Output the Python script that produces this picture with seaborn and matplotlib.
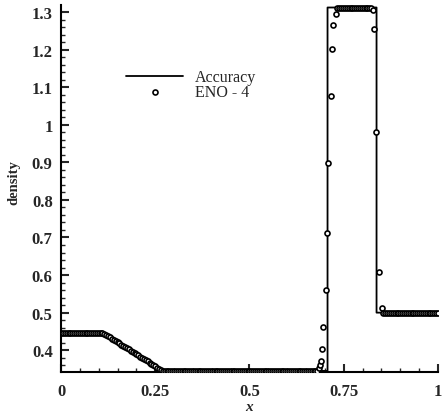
import numpy as np
import pandas as pd
import matplotlib
matplotlib.use("Agg")
import matplotlib.pyplot as plt
import seaborn as sns
from matplotlib.ticker import MultipleLocator, FuncFormatter

# ---- exact solution ("Accuracy") ----
exact_x = [0.0, 0.112, 0.15, 0.19, 0.23, 0.27, 0.707, 0.707, 0.837, 0.837, 1.0]
exact_rho = [0.445, 0.445, 0.421, 0.396, 0.370, 0.345, 0.345, 1.312, 1.312, 0.5, 0.5]

# ---- ENO-4 markers ----
# flat left state
eno_left_x = [round(0.005 * i, 3) for i in range(23)]          # 0 .. 0.11
eno_left_rho = [0.446] * 23
# rarefaction fan
eno_fan_x = [round(0.115 + 0.005 * i, 3) for i in range(32)]   # 0.115 .. 0.27
eno_fan_rho = [0.444, 0.441, 0.438, 0.434, 0.431, 0.427, 0.424, 0.421,
               0.418, 0.415, 0.411, 0.408, 0.405, 0.402, 0.399, 0.396,
               0.392, 0.389, 0.386, 0.383, 0.380, 0.377, 0.373, 0.370,
               0.367, 0.364, 0.361, 0.358, 0.354, 0.351, 0.348, 0.346]
# flat middle-left state
eno_mid_x = [round(0.275 + 0.005 * i, 3) for i in range(82)]   # 0.275 .. 0.68
eno_mid_rho = [0.345] * 82
# contact discontinuity
eno_contact_x = [0.684, 0.687, 0.689, 0.691, 0.696, 0.703, 0.705, 0.709,
                 0.716, 0.720, 0.722, 0.729]
eno_contact_rho = [0.352, 0.361, 0.372, 0.404, 0.461, 0.559, 0.713, 0.899,
                   1.077, 1.201, 1.265, 1.295]
# plateau
eno_plat_x = [round(0.733 + 0.005 * i, 3) for i in range(19)]  # 0.733 .. 0.823
eno_plat_rho = [1.312] * 19
# shock
eno_shock_x = [0.827, 0.831, 0.835, 0.844, 0.851]
eno_shock_rho = [1.306, 1.256, 0.980, 0.608, 0.513]
# right state
eno_right_x = [round(0.855 + 0.005 * i, 3) for i in range(30)]  # 0.855 .. 1.0
eno_right_rho = [0.5] * 30

eno_x = (eno_left_x + eno_fan_x + eno_mid_x + eno_contact_x
         + eno_plat_x + eno_shock_x + eno_right_x)
eno_rho = (eno_left_rho + eno_fan_rho + eno_mid_rho + eno_contact_rho
           + eno_plat_rho + eno_shock_rho + eno_right_rho)

x_ticks = [0, 0.25, 0.5, 0.75, 1]
y_ticks = [0.4, 0.5, 0.6, 0.7, 0.8, 0.9, 1.0, 1.1, 1.2, 1.3]

sns.set_style("white")
plt.rcParams['font.family'] = ['Liberation Serif', 'DejaVu Serif']

fig = plt.figure(figsize=(4.43, 4.14), dpi=100)
ax = fig.add_axes([0.1377, 0.099, 0.851, 0.8859])

df_exact = pd.DataFrame({"x": exact_x, "rho": exact_rho})
df_eno = pd.DataFrame({"x": eno_x, "rho": eno_rho})

sns.lineplot(data=df_exact, x="x", y="rho", sort=False, estimator=None,
             color="black", linewidth=1.3, label="Accuracy", ax=ax)
sns.scatterplot(data=df_eno, x="x", y="rho", marker="o", s=13,
                facecolor="white", edgecolor="black", linewidth=1.2,
                label="ENO - 4", ax=ax, zorder=3)

ax.set_xlim(0, 1)
ax.set_ylim(0.342, 1.318)
ax.set_xticks(x_ticks)
ax.set_yticks(y_ticks)
ax.xaxis.set_minor_locator(MultipleLocator(0.05))
ax.yaxis.set_minor_locator(MultipleLocator(0.02))
ax.xaxis.set_major_formatter(FuncFormatter(lambda v, p: "%g" % v))
ax.yaxis.set_major_formatter(FuncFormatter(lambda v, p: "%g" % round(v, 2)))

ax.tick_params(which="major", direction="in", length=6, width=1.5,
               labelsize=12, pad=6)
ax.tick_params(axis="x", which="major", pad=8)
ax.tick_params(which="minor", direction="in", length=3, width=1.0)
ax.tick_params(axis="y", which="both", left=True)
ax.tick_params(axis="x", which="both", bottom=True)
for lab in ax.get_xticklabels() + ax.get_yticklabels():
    lab.set_fontweight("bold")

for s in ["top", "right"]:
    ax.spines[s].set_visible(False)
for s in ["left", "bottom"]:
    ax.spines[s].set_linewidth(1.5)
    ax.spines[s].set_color("black")

ax.set_xlabel("x", fontsize=11, fontstyle="italic", fontweight="bold")
ax.set_ylabel("density", fontsize=10.5, fontweight="bold")
ax.xaxis.set_label_coords(0.5, -0.076)
ax.yaxis.set_label_coords(-0.107, 0.518)

ax.legend(loc="upper left", bbox_to_anchor=(0.155, 0.843), frameon=False,
          fontsize=11.5, handlelength=3.6, handletextpad=0.7,
          labelspacing=-0.06, borderaxespad=0)

fig.savefig("out.png", dpi=100)
